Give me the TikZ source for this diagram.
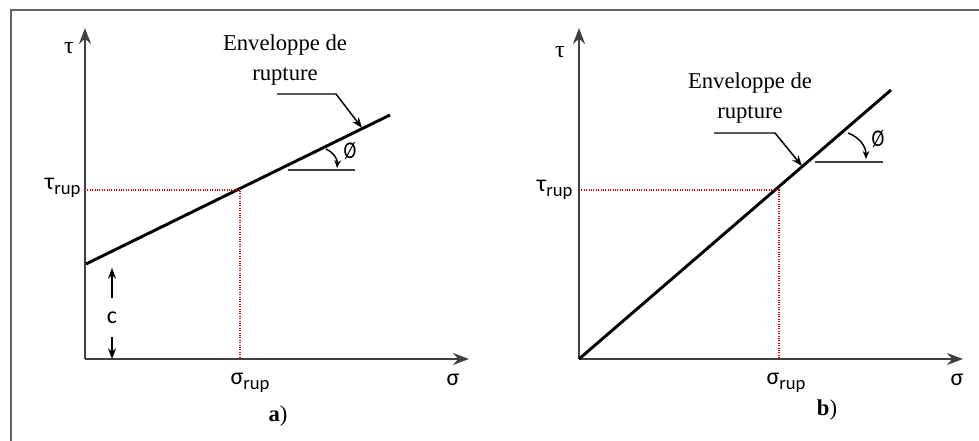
\documentclass[tikz,border=0pt]{standalone}
\usepackage{fontspec}
\setmainfont{Liberation Serif}
\newfontfamily\calibfont{Carlito}
\usetikzlibrary{arrows.meta,positioning}
\newcommand{\rupof}[1]{{\calibfont #1\raisebox{-0.45ex}{\fontsize{14}{14}\selectfont rup}}}

\begin{document}
\begin{tikzpicture}[
		x=0.75pt, y=-0.75pt,
		axis/.style={line width=1.8pt, draw=black!75, -{Stealth[length=12pt,width=9pt,inset=4pt]}},
		envelope/.style={line width=2.2pt},
		guide/.style={draw=red!90!black, densely dotted, line width=0.8pt},
		leader/.style={line width=1.1pt, -{Stealth[length=8pt,width=6pt]}},
		cote/.style={line width=1.2pt, -{Stealth[length=8pt,width=6pt]}},
		reference/.style={line width=1.4pt, draw=black!75},
		angle/.style={line width=1.1pt, -{Stealth[length=6pt,width=5pt]}},
		greek/.style={font=\calibfont\fontsize{18}{18}\selectfont},
		caption/.style={font=\fontsize{17}{23}\selectfont, align=center},
		every node/.style={inner sep=1pt}
		]
		
		\useasboundingbox (0,0) rectangle (979,441);
		\draw[black!60, line width=1pt] (979,10) -- (11,10) -- (11,441);
		
		% panel a
		\coordinate (Oa) at (85,359);
		\coordinate (Ta) at (85,28);
		\coordinate (Sa) at (469,359);
		\coordinate (Ca) at (86,264);
		\coordinate (Ea) at (390,115);
		\coordinate (Pa) at (240,190);
		\draw[axis] (Oa) -- (Ta);
		\draw[axis] (Oa) -- (Sa);
		\draw[envelope] (Ca) -- (Ea);
		\draw[guide] (Oa |- Pa) -- (Pa) -- (Pa |- Oa);
		
		\node (tauA) at (69,48) {\fontsize{18}{18}\selectfont τ};
		\node[greek] (sigA) at (453,380) {σ};
		\node[anchor=east] (tauRupA) at (82,188) {\fontsize{18}{18}\selectfont\rupof{τ}};
		\node (sigRupA) at (250,383) {\fontsize{18}{18}\selectfont\rupof{σ}};
		\node (capA) at (278,416) {\fontsize{17}{17}\selectfont\textbf{a})};
		
		\node[greek] (cA) at (112,318) {c};
		\coordinate (cTopA) at (112,268);
		\coordinate (cBotA) at (112,359);
		\draw[cote] (cA.north) ++(0,-12) -- (cTopA);
		\draw[cote] (cA.south) ++(0,12) -- (cBotA);
		
		\node[caption] (envA) at (285,60) {Enveloppe de\\rupture};
		\coordinate (kneeA) at (336,94);
		\coordinate (tipA) at (362,128);
		\draw[leader] (277,94) -- (kneeA) -- (tipA);
		
		\coordinate (refA) at (288,170);
		\draw[reference] (refA) -- (355,170);
		\node[greek] (phiA) at (350,151) {\scalebox{0.8}[1]{Ø}};
		\draw[angle] (326,149) to[bend left=35] (337,168);
		
		% panel b
		\coordinate (Ob) at (579,359);
		\coordinate (Tb) at (579,28);
		\coordinate (Sb) at (963,359);
		\coordinate (Eb) at (891,90);
		\coordinate (Pb) at (779,190);
		\draw[axis] (Ob) -- (Tb);
		\draw[axis] (Ob) -- (Sb);
		\draw[envelope] (Ob) -- (Eb);
		\draw[guide] (Ob |- Pb) -- (Pb) -- (Pb |- Ob);
		
		\node (tauB) at (560,52) {\fontsize{18}{18}\selectfont τ};
		\node[greek] (sigB) at (957,380) {σ};
		\node[anchor=east] (tauRupB) at (574,190) {\fontsize{18}{18}\selectfont\rupof{τ}};
		\node (sigRupB) at (786,383) {\fontsize{18}{18}\selectfont\rupof{σ}};
		\node (capB) at (827,410) {\fontsize{17}{17}\selectfont\textbf{b})};
		
		\node[caption] (envB) at (750,98) {Enveloppe de\\rupture};
		\coordinate (kneeB) at (775,133);
		\coordinate (tipB) at (802,166);
		\draw[leader] (714,133) -- (kneeB) -- (tipB);
		
		\coordinate (refB) at (815,162);
		\draw[reference] (refB) -- (883,162);
		\node[greek] (phiB) at (878,139) {\scalebox{0.8}[1]{Ø}};
		\draw[angle] (848,133) to[bend left=35] (866,159);
		
	\end{tikzpicture}
\end{document}
